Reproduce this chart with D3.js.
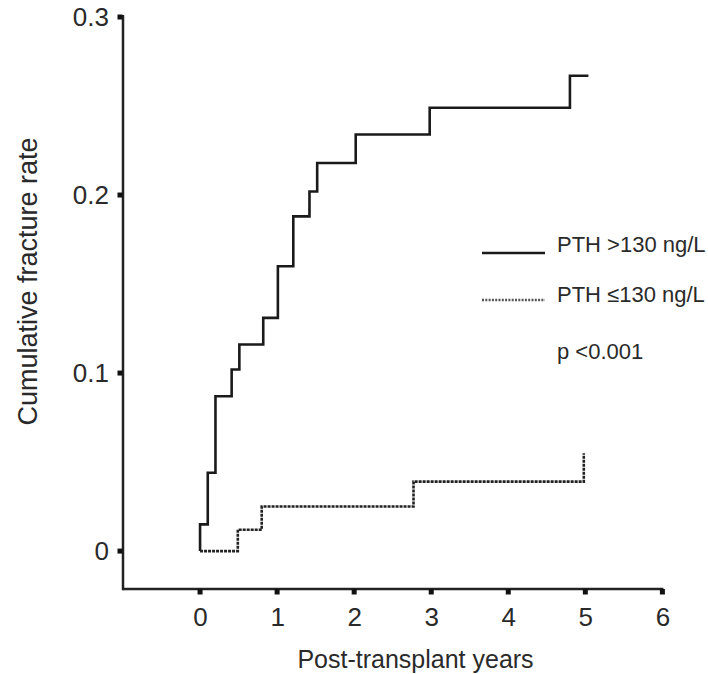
<!DOCTYPE html>
<html><head><meta charset="utf-8">
<script src="https://cdn.jsdelivr.net/npm/d3@7"></script>
<style>
html,body{margin:0;padding:0;background:#fff;}
text{font-family:"Liberation Sans",Arial,Helvetica,sans-serif;fill:#2a2a2a;}
</style></head>
<body>
<svg id="chart" width="708" height="674"></svg>
<script>
// Data
const highTimes  = [0, 0.1, 0.2, 0.41, 0.51, 0.82, 1.01, 1.21, 1.42, 1.52, 2.02, 2.98, 4.80, 5.04];
const highValues = [0.015, 0.044, 0.087, 0.102, 0.116, 0.131, 0.160, 0.188, 0.202, 0.218, 0.234, 0.249, 0.267, 0.267];
const lowTimes   = [0, 0.49, 0.80, 2.77, 4.98];
const lowValues  = [0, 0.012, 0.025, 0.039, 0.055];
const xTicks = [0, 1, 2, 3, 4, 5, 6];
const yTicks = [0, 0.1, 0.2, 0.3];
const yTickLabels = ["0", "0.1", "0.2", "0.3"];
const legendLabels = ["PTH >130 ng/L", "PTH \u2264130 ng/L"];
const pText = "p <0.001";
const xTitle = "Post-transplant years";
const yTitle = "Cumulative fracture rate";

const svg = d3.select("#chart");
const x = d3.scaleLinear().domain([-1, 6]).range([123, 662.4]);
const y = d3.scaleLinear().domain([-0.0213, 0.3]).range([589, 17]);

function stepPoints(times, values) {
  const pts = [[0, 0]];
  let prev = 0;
  times.forEach((t, i) => {
    pts.push([t, prev]);
    pts.push([t, values[i]]);
    prev = values[i];
  });
  return pts;
}
const line = d3.line().x(d => x(d[0])).y(d => y(d[1]));

const axisColor = "#222";
const yAxis = d3.axisLeft(y).tickValues(yTicks).tickFormat((d, i) => yTickLabels[i]).tickSize(0).tickPadding(14);
const yg = svg.append("g").attr("transform", `translate(${x(-1)},0)`).call(yAxis);
yg.select(".domain").remove();
yg.selectAll("text").attr("font-size", 26).attr("fill", "#2a2a2a").style("font-family", '"Liberation Sans",Arial,sans-serif');
const xAxis = d3.axisBottom(x).tickValues(xTicks).tickFormat(d3.format("d")).tickSize(0).tickPadding(19);
const xg = svg.append("g").attr("transform", `translate(0,${y(-0.0213)})`).call(xAxis);
xg.select(".domain").remove();
xg.selectAll("text").attr("font-size", 26).attr("fill", "#2a2a2a").style("font-family", '"Liberation Sans",Arial,sans-serif');

svg.append("line").attr("x1", x(-1)).attr("x2", x(-1)).attr("y1", y(0.3) - 2).attr("y2", y(-0.0213) + 1.25)
  .attr("stroke", axisColor).attr("stroke-width", 2.5);
svg.append("line").attr("x1", x(-1)).attr("x2", x(6) + 1).attr("y1", y(-0.0213)).attr("y2", y(-0.0213))
  .attr("stroke", axisColor).attr("stroke-width", 2.5);
svg.selectAll(".ytick").data(yTicks).enter().append("rect")
  .attr("x", x(-1) - 5.5).attr("y", d => y(d) - 2.5).attr("width", 5).attr("height", 5).attr("fill", "#111");
svg.selectAll(".xtick").data(xTicks).enter().append("rect")
  .attr("x", d => x(d) - 2.5).attr("y", y(-0.0213)).attr("width", 5).attr("height", 5.5).attr("fill", "#111");

svg.append("path").datum(stepPoints(highTimes, highValues)).attr("d", line)
  .attr("fill", "none").attr("stroke", "#1a1a1a").attr("stroke-width", 2.6);
svg.append("path").datum(stepPoints(lowTimes, lowValues)).attr("d", line)
  .attr("fill", "none").attr("stroke", "#222").attr("stroke-width", 2.6).attr("stroke-dasharray", "3,1");

const lg = svg.append("g");
lg.append("line").attr("x1", 482).attr("x2", 545).attr("y1", 253).attr("y2", 253)
  .attr("stroke", "#1a1a1a").attr("stroke-width", 2.6);
lg.append("line").attr("x1", 482).attr("x2", 545).attr("y1", 300).attr("y2", 300)
  .attr("stroke", "#555").attr("stroke-width", 2.4).attr("stroke-dasharray", "2,1.3");
lg.selectAll("text.leg").data(legendLabels).enter().append("text")
  .attr("x", 557).attr("y", (d, i) => i === 0 ? 251.5 : 302).attr("font-size", 22).text(d => d);
lg.append("text").attr("x", 557).attr("y", 359).attr("font-size", 22).text(pText);

svg.append("text").attr("x", 415.5).attr("y", 668).attr("text-anchor", "middle").attr("font-size", 25).text(xTitle);
svg.append("text").attr("transform", "translate(37,281.5) rotate(-90)").attr("text-anchor", "middle")
  .attr("font-size", 27).text(yTitle);
</script>
</body></html>
